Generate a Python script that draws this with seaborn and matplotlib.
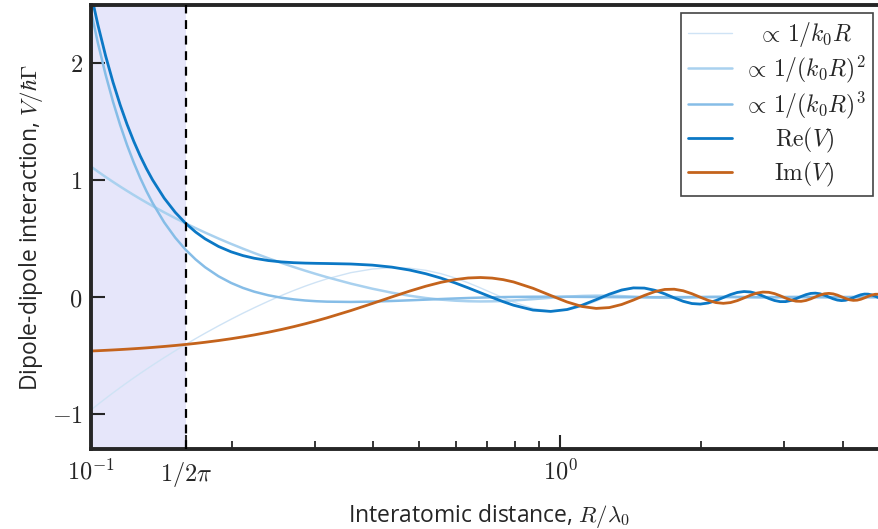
import matplotlib
matplotlib.use("Agg")
import matplotlib.pyplot as plt
import numpy as np
import pandas as pd
import seaborn as sns
from matplotlib.ticker import FixedLocator, FixedFormatter, NullFormatter

# Interatomic distance R / lambda_0 (log axis)
R = [0.1, 0.10345, 0.10743, 0.11141, 0.11539, 0.11937, 0.12335, 0.12732, 0.1313,
     0.13528, 0.14324, 0.1512, 0.15915, 0.16711, 0.17507, 0.18701, 0.19894,
     0.21088, 0.22282, 0.23873, 0.25465, 0.27056, 0.28648, 0.30239, 0.31831,
     0.3581, 0.39789,
     0.43768, 0.47746, 0.51725, 0.55704, 0.59683, 0.63662, 0.67641, 0.7162,
     0.75599, 0.79577, 0.87535, 0.95493, 1.03451, 1.11408, 1.19366, 1.27324,
     1.35282, 1.43239, 1.51197, 1.59155, 1.67113, 1.7507, 1.83028, 1.90986,
     1.98944, 2.06901, 2.14859, 2.22817, 2.30775, 2.38732, 2.4669, 2.54648,
     2.62606, 2.70563, 2.78521, 2.86479, 2.94437, 3.02394, 3.10352, 3.1831,
     3.26268, 3.34225, 3.42183, 3.50141, 3.58099, 3.66056, 3.74014, 3.81972,
     3.8993, 3.97887, 4.05845, 4.13803, 4.21761, 4.29718, 4.37676, 4.45634,
     4.53592, 4.61549, 4.69507, 4.77465, 4.85423, 4.9338, 5.0]

# far-field term ~ 1/k0R
term1 = [-0.9657, -0.9186, -0.8675, -0.8195, -0.7743, -0.7317, -0.6914, -0.6532, -0.6169,
         -0.5823, -0.518, -0.4592, -0.4052, -0.3554, -0.3093, -0.2461, -0.1892,
         -0.1377, -0.0911, -0.0354, 0.0137, 0.0568, 0.0947, 0.1276, 0.1561,
         0.2094, 0.2403,
         0.2521, 0.2475, 0.2294, 0.2007, 0.1641, 0.1226, 0.0787, 0.0351,
         -0.0059, -0.0426, -0.0966, -0.12, -0.1127, -0.0808, -0.0347, 0.0136,
         0.0531, 0.0759, 0.0787, 0.0629, 0.034, -0.0003, -0.0315, -0.0527,
         -0.0599, -0.0524, -0.0331, -0.0073, 0.0184, 0.038, 0.0473, 0.0449,
         0.0319, 0.0121, -0.0094, -0.0275, -0.0381, -0.039, -0.0306, -0.0153,
         0.0029, 0.0196, 0.0308, 0.0341, 0.0291, 0.0174, 0.002, -0.0133,
         -0.0247, -0.0297, -0.0275, -0.0187, -0.0057, 0.0081, 0.0195, 0.0258,
         0.0257, 0.0194, 0.0086, -0.0039, -0.015, -0.0221, -0.0239]

# intermediate term ~ 1/(k0R)^2
term2 = [1.1167, 1.0743, 1.0286, 0.9861, 0.9462, 0.9089, 0.8737, 0.8407, 0.8094,
         0.7799, 0.7253, 0.676, 0.6311, 0.5901, 0.5524, 0.5012, 0.4555,
         0.4144, 0.3771, 0.3325, 0.2928, 0.2574, 0.2254, 0.1966, 0.1705,
         0.1153, 0.0718,
         0.0379, 0.0118, -0.0077, -0.0215, -0.0305, -0.0355, -0.0372, -0.0362,
         -0.0332, -0.0288, -0.0175, -0.0058, 0.0038, 0.0101, 0.0125, 0.0116,
         0.0083, 0.0038, -0.0006, -0.0041, -0.006, -0.0062, -0.005, -0.0028,
         -0.0003, 0.0019, 0.0033, 0.0038, 0.0033, 0.0022, 0.0006, -0.0008,
         -0.002, -0.0025, -0.0024, -0.0017, -0.0008, 0.0003, 0.0012, 0.0017,
         0.0018, 0.0014, 0.0008, 0.0, -0.0007, -0.0012, -0.0014, -0.0012,
         -0.0007, -0.0002, 0.0004, 0.0008, 0.001, 0.001, 0.0007, 0.0003,
         -0.0002, -0.0006, -0.0008, -0.0008, -0.0006, -0.0003, 0.0]

# near-field term ~ 1/(k0R)^3
term3 = [2.4461, 2.1741, 1.9039, 1.6724, 1.4731, 1.3008, 1.1511, 1.0206, 0.9063,
         0.806, 0.6395, 0.5088, 0.4052, 0.3224, 0.2556, 0.1782, 0.1211,
         0.0785, 0.0465, 0.0157, -0.0054, -0.0197, -0.0292, -0.0354, -0.039,
         -0.0414, -0.0385,
         -0.0333, -0.0275, -0.0217, -0.0164, -0.0117, -0.0077, -0.0044, -0.0017,
         0.0003, 0.0017, 0.0032, 0.0033, 0.0027, 0.0016, 0.0006, -0.0002,
         -0.0007, -0.0009, -0.0009, -0.0006, -0.0003, 0.0, 0.0002, 0.0004,
         0.0004, 0.0003, 0.0002, 0.0, -0.0001, -0.0002, -0.0002, -0.0002,
         -0.0001, 0.0, 0.0, 0.0001, 0.0001, 0.0001, 0.0001, 0.0,
         0.0, 0.0, -0.0001, -0.0001, -0.0001, 0.0, 0.0, 0.0,
         0.0, 0.0, 0.0, 0.0, 0.0, 0.0, 0.0, 0.0,
         0.0, 0.0, 0.0, 0.0, 0.0, 0.0, 0.0]

re_v = [2.5971, 2.3298, 2.0651, 1.839, 1.645, 1.4779, 1.3335, 1.2081, 1.0989,
        1.0035, 0.8468, 0.7256, 0.6311, 0.557, 0.4987, 0.4334, 0.3874,
        0.3551, 0.3325, 0.3129, 0.3012, 0.2945, 0.2909, 0.2889, 0.2875,
        0.2833, 0.2737,
        0.2566, 0.2318, 0.2, 0.1628, 0.122, 0.0794, 0.0372, -0.0028,
        -0.0389, -0.0696, -0.1109, -0.1225, -0.1062, -0.0691, -0.0215, 0.025,
        0.0607, 0.0788, 0.0772, 0.0582, 0.0277, -0.0065, -0.0362, -0.0552,
        -0.0598, -0.0502, -0.0296, -0.0035, 0.0216, 0.04, 0.0478, 0.0439,
        0.0299, 0.0096, -0.0118, -0.0292, -0.0387, -0.0386, -0.0293, -0.0136,
        0.0047, 0.0209, 0.0315, 0.034, 0.0283, 0.0162, 0.0006, -0.0144,
        -0.0254, -0.0299, -0.027, -0.0178, -0.0047, 0.0091, 0.0202, 0.026,
        0.0254, 0.0187, 0.0078, -0.0047, -0.0156, -0.0224, -0.0239]

im_v = [-0.4613, -0.4587, -0.4555, -0.4523, -0.4489, -0.4454, -0.4418, -0.4382, -0.4344,
        -0.4305, -0.4224, -0.414, -0.4052, -0.3961, -0.3866, -0.3718, -0.3563,
        -0.3403, -0.3236, -0.3007, -0.277, -0.2527, -0.2279, -0.2029, -0.1777,
        -0.1151, -0.0547,
        0.0013, 0.0511, 0.0932, 0.1264, 0.1499, 0.1637, 0.1677, 0.1627,
        0.1495, 0.1296, 0.0755, 0.014, -0.0416, -0.0805, -0.0968, -0.0896,
        -0.0632, -0.0255, 0.0142, 0.0467, 0.0655, 0.0676, 0.0539, 0.0289,
        -0.0008, -0.0281, -0.0469, -0.0533, -0.0469, -0.0298, -0.0069, 0.0163,
        0.0342, 0.043, 0.0411, 0.0297, 0.0118, -0.008, -0.0248, -0.0349,
        -0.0362, -0.0289, -0.015, 0.0019, 0.0175, 0.0283, 0.0319, 0.0277,
        0.0171, 0.0028, -0.0116, -0.0227, -0.0279, -0.0262, -0.0183, -0.0063,
        0.0068, 0.0178, 0.0242, 0.0245, 0.019, 0.0091, -0.0008]

LABELS = [r"$\propto\,1/k_0R$", r"$\propto\,1/(k_0R)^2$", r"$\propto\,1/(k_0R)^3$",
          r"$\mathrm{Re}(V)$", r"$\mathrm{Im}(V)$"]
COLORS = ["#cfe3f5", "#a9d1ef", "#86bde7", "#0b78c5", "#c4631c"]
WIDTHS = [1.0, 1.8, 1.8, 2.0, 2.0]

X_TICKS = [0.1, 1 / (2 * np.pi), 1.0]
X_TICKLABELS = [r"$10^{-1}$", r"$1/2\pi$", r"$10^{0}$"]
X_MINOR = [0.2, 0.3, 0.4, 0.5, 0.6, 0.7, 0.8, 0.9, 2, 3, 4]
Y_TICKS = [-1, 0, 1, 2]
Y_TICKLABELS = [r"$-1$", r"$0$", r"$1$", r"$2$"]

sns.set_style("ticks")
plt.rcParams["font.family"] = ["Open Sans", "DejaVu Sans"]
plt.rcParams["mathtext.fontset"] = "cm"

fig = plt.figure(figsize=(8.79, 5.29), dpi=100)
ax = fig.add_axes([91 / 879, 1 - 449 / 529, 797 / 879, 444 / 529])

ax.axvspan(0.1, 1 / (2 * np.pi), color="lavender", lw=0, zorder=0)
ax.axvline(1 / (2 * np.pi), color="black", ls=(0, (4, 3)), lw=1.6, zorder=5)

df = pd.DataFrame({"R": R, LABELS[0]: term1, LABELS[1]: term2, LABELS[2]: term3,
                   LABELS[3]: re_v, LABELS[4]: im_v})
for lab, col, lw in zip(LABELS, COLORS, WIDTHS):
    sns.lineplot(data=df, x="R", y=lab, ax=ax, color=col, lw=lw, label=lab)

ax.set_xscale("log")
ax.set_xlim(0.1, 5.0)
ax.set_ylim(-1.3, 2.5)

ax.xaxis.set_major_locator(FixedLocator(X_TICKS))
ax.xaxis.set_major_formatter(FixedFormatter(X_TICKLABELS))
ax.xaxis.set_minor_locator(FixedLocator(X_MINOR))
ax.xaxis.set_minor_formatter(NullFormatter())
ax.yaxis.set_major_locator(FixedLocator(Y_TICKS))
ax.yaxis.set_major_formatter(FixedFormatter(Y_TICKLABELS))

ax.tick_params(which="major", direction="in", length=10, width=1.5, labelsize=17.5, pad=8)
ax.tick_params(which="minor", direction="in", length=6, width=1.3)
ax.tick_params(axis="y", pad=6)
for sp in ax.spines.values():
    sp.set_linewidth(2.8)
    sp.set_visible(True)

ax.set_xlabel(r"Interatomic distance, $R/\lambda_0$", fontsize=16.5, labelpad=9)
ax.set_ylabel(r"Dipole-dipole interaction, $V/\hbar\Gamma$", fontsize=16.5, labelpad=5)

leg = ax.legend(loc="upper right", bbox_to_anchor=(0.981, 0.982), borderaxespad=0,
                fontsize=17, frameon=True, fancybox=False, framealpha=1,
                edgecolor="#444444", handlelength=1.9, handletextpad=0.45,
                borderpad=0.3, labelspacing=0.2)
leg.get_frame().set_linewidth(1.2)

# centre the legend labels in the space right of the handles
fig.canvas.draw()
renderer = fig.canvas.get_renderer()
widths = [t.get_window_extent(renderer).width for t in leg.get_texts()]
wmax = max(widths)
rows = leg._legend_handle_box.get_children()[0].get_children()
for row, w in zip(rows, widths):
    row.sep += (wmax - w) / 2 * 72 / fig.dpi

fig.savefig("out.png", dpi=100)
